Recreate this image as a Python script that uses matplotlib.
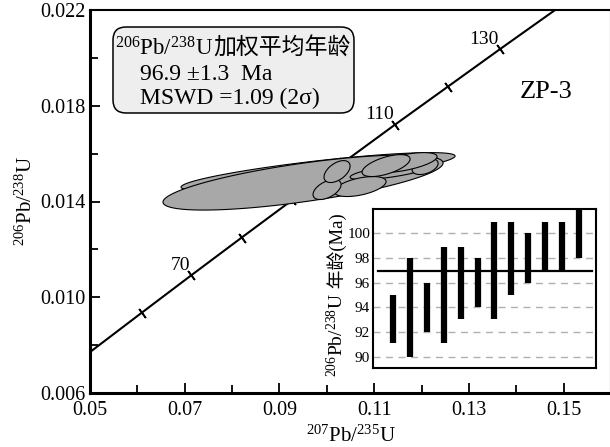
import numpy as np
import matplotlib
matplotlib.use('Agg')
import matplotlib.pyplot as plt
from matplotlib.patches import FancyBboxPatch, Polygon
from matplotlib.text import Annotation

plt.rcParams['font.family'] = ['Liberation Serif', 'Noto Sans CJK SC']
plt.rcParams['mathtext.fontset'] = 'custom'
plt.rcParams['mathtext.rm'] = 'Liberation Serif'
plt.rcParams['mathtext.it'] = 'Liberation Serif:italic'

# concordia points (age in Ma, 207Pb/235U, 206Pb/238U)
concordia_age = [49.5, 60, 70, 80, 90, 100, 110, 120, 130, 140.3]
concordia_x = [0.0500, 0.0609, 0.0714, 0.0820, 0.0927, 0.1035, 0.1144, 0.1255, 0.1366, 0.1482]
concordia_y = [0.00771, 0.00935, 0.01092, 0.01249, 0.01406, 0.01563, 0.01721, 0.01879, 0.02037, 0.02200]
label_ages = [70, 110, 130]

# error ellipses: x, 2s(x), y, 2s(y), rho
ell_x = [0.09815, 0.09498, 0.11336, 0.12075, 0.11631, 0.10702, 0.10005, 0.10216, 0.11251]
ell_sx = [0.02893, 0.02957, 0.00845, 0.00275, 0.00697, 0.00549, 0.00296, 0.00275, 0.00507]
ell_y = [0.01525, 0.014792, 0.01525, 0.01546, 0.015625, 0.014625, 0.0145, 0.01525, 0.0155]
ell_sy = [0.000792, 0.00115, 0.000333, 0.000333, 0.000417, 0.000417, 0.000417, 0.000458, 0.000458]
ell_rho = [0.82, 0.71, 0.7, 0.4, 0.6, 0.5, 0.5, 0.5, 0.6]

# inset: single-spot 206Pb/238U ages (Ma), 2s ranges
spot_lo = [91.1, 90.0, 92.0, 91.1, 93.1, 94.0, 93.1, 95.0, 96.0, 96.9, 96.9, 98.0]
spot_hi = [95.0, 98.0, 96.0, 98.9, 98.9, 98.0, 100.9, 100.9, 100.0, 100.9, 100.9, 102.5]
mean_age = 96.9

fig = plt.figure(figsize=(6.10, 4.47), dpi=100)
ax = fig.add_axes([90 / 610, 54 / 447, 521 / 610, 383 / 447])

ax.plot(concordia_x, concordia_y, color='black', lw=1.5, zorder=2)
ax.plot(concordia_x[1:-1], concordia_y[1:-1], ls='none', marker=(2, 2, 37),
        ms=8, mew=1.2, color='black', zorder=2)
for age, cx, cy in zip(concordia_age, concordia_x, concordia_y):
    if age in label_ages:
        ax.text(cx - 0.0003, cy + 0.00005, str(age), fontsize=14,
                ha='right', va='bottom', zorder=2)

t = np.linspace(0, 2 * np.pi, 200)
for x0, sx, y0, sy, r in zip(ell_x, ell_sx, ell_y, ell_sy, ell_rho):
    ex = x0 + sx * np.cos(t)
    ey = y0 + sy * (r * np.cos(t) + np.sqrt(1 - r ** 2) * np.sin(t))
    ax.add_patch(Polygon(np.column_stack([ex, ey]), closed=True,
                         facecolor='#a8a8a8', edgecolor='black', lw=0.8, zorder=3))

ax.set_xlim(0.05, 0.16)
ax.set_ylim(0.006, 0.022)
ax.set_xticks([0.05, 0.07, 0.09, 0.11, 0.13, 0.15])
ax.set_xticklabels(['0.05', '0.07', '0.09', '0.11', '0.13', '0.15'])
ax.set_xticks([0.06, 0.08, 0.10, 0.12, 0.14], minor=True)
ax.set_yticks([0.006, 0.010, 0.014, 0.018, 0.022])
ax.set_yticklabels(['0.006', '0.010', '0.014', '0.018', '0.022'])
ax.set_yticks([0.008, 0.012, 0.016, 0.020], minor=True)
ax.tick_params(which='both', direction='in', labelsize=14.5, width=1.3)
ax.tick_params(which='major', length=7)
ax.tick_params(which='minor', length=6)
ax.tick_params(axis='x', pad=6)
for side in ['left', 'bottom']:
    ax.spines[side].set_linewidth(2.2)
for side in ['top', 'right']:
    ax.spines[side].set_linewidth(1.5)

ax.set_xlabel(r'$^{207}$Pb/$^{235}$U', fontsize=15, labelpad=4)
ax.set_ylabel(r'$^{206}$Pb/$^{238}$U', fontsize=15, labelpad=2)

ax.text(0.875, 0.786, 'ZP-3', transform=ax.transAxes, fontsize=19,
        ha='center', va='center')

# summary box
inch = fig.dpi_scale_trans
fig.patches.append(FancyBboxPatch((1.13, 3.34), 2.41, 0.86,
                                  boxstyle='round,pad=0,rounding_size=0.13',
                                  facecolor='#eeeeee', edgecolor='black', lw=1.1,
                                  transform=inch, figure=fig))
t1 = fig.text(1.15, 3.92, r'$^{206}$Pb/$^{238}$U', fontsize=16.5, transform=inch,
              va='baseline')
fig.add_artist(Annotation('加权平均年龄', xy=(1.0, 3.92), xycoords=(t1, inch),
                          fontsize=16.5, va='baseline', ha='left',
                          annotation_clip=False))
fig.text(1.40, 3.67, '96.9 ±1.3  Ma', fontsize=17, transform=inch, va='baseline')
fig.text(1.40, 3.43, 'MSWD =1.09 (2σ)', fontsize=17, transform=inch, va='baseline')

# inset with individual ages
ins = fig.add_axes([373 / 610, 79 / 447, 223 / 610, 159 / 447])
pos = np.arange(1, len(spot_lo) + 1)
ins.vlines(pos, spot_lo, spot_hi, color='black', lw=4.5)
ins.plot([0.12, 12.76], [mean_age, mean_age], color='black', lw=1.6)
ins.set_xlim(-0.18, 13.0)
ins.set_ylim(89.1, 101.95)
ins.set_xticks([])
ins.set_yticks([90, 92, 94, 96, 98, 100])
ins.tick_params(axis='y', length=0, labelsize=11, pad=2)
ins.grid(axis='y', ls=(0, (5, 4)), color='#b0b0b0', lw=1.0)
ins.set_axisbelow(True)
for s in ins.spines.values():
    s.set_linewidth(1.5)

# inset y label: isotope ratio part + Chinese part
lab1 = ins.text(-0.135, -0.057, r'$^{206}$Pb/$^{238}$U', transform=ins.transAxes,
                rotation=90, rotation_mode='anchor', ha='left', va='baseline',
                fontsize=14, clip_on=False)
ins.annotate(' 年龄(Ma)', xy=(-0.135, 1.0), xycoords=(ins.transAxes, lab1),
             rotation=90, rotation_mode='anchor', ha='left', va='baseline',
             fontsize=13.5, annotation_clip=False)

fig.savefig('out.png', dpi=100)
